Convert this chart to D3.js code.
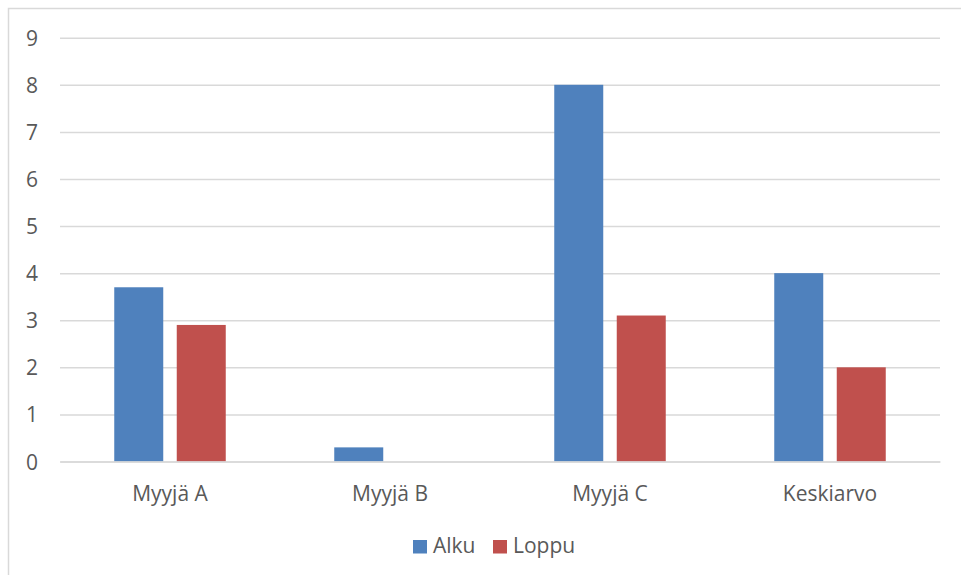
<!DOCTYPE html>
<html>
<head>
<meta charset="utf-8">
<script src="https://cdn.jsdelivr.net/npm/d3@7"></script>
<style>
  html, body { margin: 0; padding: 0; background: #fff; }
  svg { display: block; }
  text { font-family: "Open Sans", "Noto Sans", sans-serif; fill: #595959; }
</style>
</head>
<body>
<svg id="chart" width="961" height="575"></svg>
<script>
// Sales figures per seller, start vs. end
const categories = ["Myyjä A", "Myyjä B", "Myyjä C", "Keskiarvo"];
const seriesNames = ["Alku", "Loppu"];
const alku = [3.7, 0.3, 8, 4];
const loppu = [2.9, 0, 3.1, 2];
const yTicks = [0, 1, 2, 3, 4, 5, 6, 7, 8, 9];
const colors = ["#4f81bd", "#c0504d"];

const svg = d3.select("#chart");
const W = 961, H = 575;
const fontSize = 21;

// chart frame (open to the right and bottom edges)
svg.append("rect")
  .attr("x", 8.5).attr("y", 8.5)
  .attr("width", W + 20).attr("height", H + 20)
  .attr("fill", "none").attr("stroke", "#d9d9d9").attr("stroke-width", 1.5);

const plot = { left: 60, right: 940, top: 37.7, bottom: 461.5 };

const x0 = d3.scaleBand().domain(categories).range([plot.left, plot.right]).paddingInner(0).paddingOuter(0);
const y = d3.scaleLinear().domain([0, 9]).range([plot.bottom, plot.top]);

// horizontal gridlines
const yAxis = d3.axisLeft(y).tickValues(yTicks).tickSize(-(plot.right - plot.left)).tickFormat(d3.format("d"));
const gy = svg.append("g").attr("transform", `translate(${plot.left},0)`).call(yAxis);
gy.select(".domain").remove();
gy.selectAll(".tick line").attr("stroke", "#d9d9d9").attr("stroke-width", 1.5);
gy.selectAll(".tick text").attr("font-size", fontSize).attr("fill", "#595959").attr("x", -22).attr("dy", "0.36em");

// bars
const barW = 49, gap = 13.5;
const data = categories.map((c, i) => ({ cat: c, vals: [alku[i], loppu[i]] }));
const groups = svg.append("g").selectAll("g").data(data).join("g")
  .attr("transform", d => `translate(${x0(d.cat) + x0.bandwidth() / 2},0)`);
groups.selectAll("rect").data(d => d.vals.map((v, k) => ({ v, k }))).join("rect")
  .attr("x", d => d.k === 0 ? -(gap / 2 + barW) : gap / 2)
  .attr("width", barW)
  .attr("y", d => y(d.v))
  .attr("height", d => y(0) - y(d.v))
  .attr("fill", d => colors[d.k]);

// category axis
const xAxis = d3.axisBottom(x0).tickSize(0).tickPadding(0);
const gx = svg.append("g").attr("transform", `translate(0,${plot.bottom})`).call(xAxis);
gx.select(".domain").attr("stroke", "#d9d9d9").attr("stroke-width", 1.5);
gx.selectAll(".tick text").attr("font-size", fontSize).attr("fill", "#595959").attr("y", 39).attr("dy", 0);

// legend
const legend = svg.append("g");
const legendItems = [{ name: seriesNames[0], x: 413 }, { name: seriesNames[1], x: 493 }];
legendItems.forEach((it, i) => {
  legend.append("rect").attr("x", it.x).attr("y", 540).attr("width", 14).attr("height", 13.5).attr("fill", colors[i]);
  legend.append("text").attr("x", it.x + 20).attr("y", 553).attr("font-size", fontSize).text(it.name);
});
</script>
</body>
</html>
